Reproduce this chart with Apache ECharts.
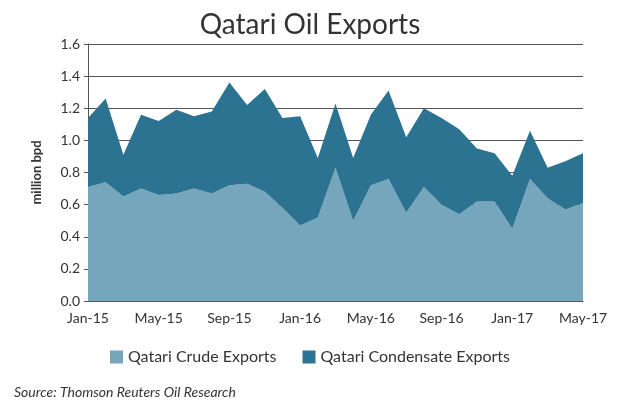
<!DOCTYPE html><html><head><meta charset="utf-8"><script src="https://cdn.jsdelivr.net/npm/echarts@6/dist/echarts.min.js"></script>
<style>body{margin:0;background:#fff}#c{width:620px;height:413px}</style></head><body><div id="c"></div><script>
const months=['Jan-15','Feb-15','Mar-15','Apr-15','May-15','Jun-15','Jul-15','Aug-15','Sep-15','Oct-15','Nov-15','Dec-15','Jan-16','Feb-16','Mar-16','Apr-16','May-16','Jun-16','Jul-16','Aug-16','Sep-16','Oct-16','Nov-16','Dec-16','Jan-17','Feb-17','Mar-17','Apr-17','May-17'];
const crude=[0.71,0.74,0.65,0.70,0.66,0.67,0.70,0.67,0.72,0.73,0.68,0.58,0.47,0.52,0.83,0.50,0.72,0.76,0.55,0.71,0.60,0.54,0.62,0.62,0.45,0.76,0.64,0.57,0.61];
const condensate=[0.43,0.52,0.26,0.46,0.46,0.52,0.45,0.51,0.64,0.49,0.64,0.56,0.68,0.37,0.40,0.39,0.44,0.55,0.47,0.49,0.54,0.53,0.33,0.30,0.33,0.30,0.19,0.30,0.31];
const yTicks=[0,0.2,0.4,0.6,0.8,1.0,1.2,1.4,1.6];
const F='Lato';
const ch=echarts.init(document.getElementById('c'));
ch.setOption({animation:false,
title:{text:'Qatari Oil Exports',left:'center',top:6,textStyle:{fontFamily:F,fontSize:28,fontWeight:'normal',color:'#333'}},
graphic:[{type:'text',left:14,top:385,style:{text:'Source: Thomson Reuters Oil Research',font:'italic 14px Lato',fill:'#333'}}],
legend:{bottom:43,itemGap:26,icon:'rect',itemWidth:13,itemHeight:13,textStyle:{fontFamily:F,fontSize:16,color:'#333'},data:['Qatari Crude Exports','Qatari Condensate Exports']},
grid:{left:88,right:37,top:44,bottom:112},
xAxis:{type:'category',boundaryGap:false,data:months,axisTick:{show:false},axisLine:{lineStyle:{color:'#555'}},
 axisLabel:{interval:3,fontFamily:F,fontSize:14,color:'#333',margin:10}},
yAxis:{type:'value',min:0,max:1.6,interval:0.2,name:'million bpd',nameLocation:'middle',nameGap:45,nameTextStyle:{fontFamily:F,fontSize:13,fontWeight:'bold',color:'#333'},
 axisLine:{show:true,lineStyle:{color:'#555'}},axisTick:{show:true,length:4,lineStyle:{color:'#555'}},
 axisLabel:{fontFamily:F,fontSize:14,color:'#333',formatter:v=>v.toFixed(1)},splitLine:{lineStyle:{color:'#555',width:1}}},
series:[
{name:'Qatari Crude Exports',type:'line',stack:'s',data:crude,symbol:'none',lineStyle:{width:0},itemStyle:{color:'#75a6bb'},areaStyle:{color:'#75a6bb',opacity:1},z:3},
{name:'Qatari Condensate Exports',type:'line',stack:'s',data:condensate,symbol:'none',lineStyle:{width:0},itemStyle:{color:'#2b7390'},areaStyle:{color:'#2b7390',opacity:1},z:3}
]});
</script></body></html>
